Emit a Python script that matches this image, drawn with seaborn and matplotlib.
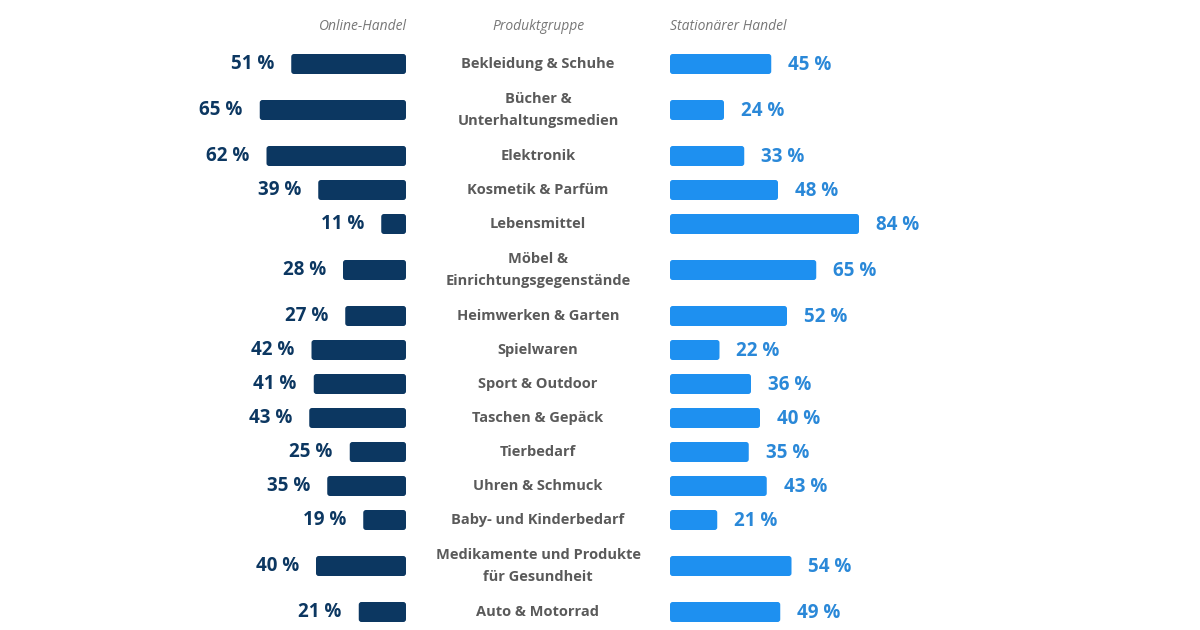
import numpy as np
import pandas as pd
import matplotlib.pyplot as plt
import matplotlib.transforms as mtransforms
from matplotlib.patches import FancyBboxPatch
import seaborn as sns

# daten
produktgruppen = ['Bekleidung & Schuhe', 'Bücher &\nUnterhaltungsmedien', 'Elektronik',
                  'Kosmetik & Parfüm', 'Lebensmittel', 'Möbel &\nEinrichtungsgegenstände',
                  'Heimwerken & Garten', 'Spielwaren', 'Sport & Outdoor', 'Taschen & Gepäck',
                  'Tierbedarf', 'Uhren & Schmuck', 'Baby- und Kinderbedarf',
                  'Medikamente und Produkte\nfür Gesundheit', 'Auto & Motorrad']
online = [51, 65, 62, 39, 11, 28, 27, 42, 41, 43, 25, 35, 19, 40, 21]
stationaer = [45, 24, 33, 48, 84, 65, 52, 22, 36, 40, 35, 43, 21, 54, 49]

sns.set_theme(style='white')
plt.rcParams['font.family'] = ['Open Sans', 'DejaVu Sans']

W, H = 1200, 630
c_online = '#0c3761'
c_stat = '#1e90f0'
c_stat_txt = '#2a88d8'
c_grau = '#5a5a5a'

# zeilenpositionen (pixel von oben), zweizeilige labels brauchen mehr platz
zeilen = [p.count('\n') + 1 for p in produktgruppen]
pos = [64]
for i in range(1, len(zeilen)):
    pos.append(pos[-1] + 34 + 12 * (zeilen[i - 1] - 1) + 12 * (zeilen[i] - 1))

df = pd.DataFrame({'gruppe': produktgruppen, 'online': online,
                   'stationaer': stationaer, 'pos': pos})

fig = plt.figure(figsize=(12, 6.3), dpi=100)
pxu = 2.25  # pixel pro prozent
maxv = 140
axl = fig.add_axes([(406 - pxu * maxv) / W, 0, pxu * maxv / W, 1])
axr = fig.add_axes([670 / W, 0, pxu * maxv / W, 1])

bw = 20 / 34
sns.barplot(data=df, x='online', y='pos', orient='h', native_scale=True,
            color=c_online, width=bw, ax=axl, saturation=1)
sns.barplot(data=df, x='stationaer', y='pos', orient='h', native_scale=True,
            color=c_stat, width=bw, ax=axr, saturation=1)

for ax in (axl, axr):
    ax.set_ylim(H, 0)
    ax.axis('off')
    # abgerundete ecken
    for p in list(ax.patches):
        x0, y0 = p.get_x(), p.get_y()
        w, h = p.get_width(), p.get_height()
        fb = FancyBboxPatch((x0, y0), w, h,
                            boxstyle='round,pad=0,rounding_size=1.2',
                            mutation_aspect=pxu, fc=p.get_facecolor(),
                            ec='none', clip_on=False)
        p.remove()
        ax.add_patch(fb)
axl.set_xlim(maxv, 0)
axr.set_xlim(0, maxv)

off = 17 / pxu
for v, y in zip(online, pos):
    axl.text(v + off, y, f'{v} %', ha='right', va='center', fontsize=13.5,
             fontweight='bold', color=c_online, clip_on=False)
for v, y in zip(stationaer, pos):
    axr.text(v + off, y + 1, f'{v} %', ha='left', va='center', fontsize=13.5,
             fontweight='bold', color=c_stat_txt, clip_on=False)

tr = mtransforms.blended_transform_factory(fig.transFigure, axl.transData)
for g, y in zip(produktgruppen, pos):
    axl.text(538 / W, y, g, transform=tr, ha='center', va='center', fontsize=10.5,
             fontweight='bold', color=c_grau, linespacing=1.75, clip_on=False)

# spaltenköpfe
kopf = dict(fontsize=10, style='italic', color='#777777', va='center')
fig.text(407 / W, 1 - 27 / H, 'Online-Handel', ha='right', **kopf)
fig.text(538 / W, 1 - 27 / H, 'Produktgruppe', ha='center', **kopf)
fig.text(670 / W, 1 - 27 / H, 'Stationärer Handel', ha='left', **kopf)

fig.savefig('out.png', dpi=100, facecolor='white')
